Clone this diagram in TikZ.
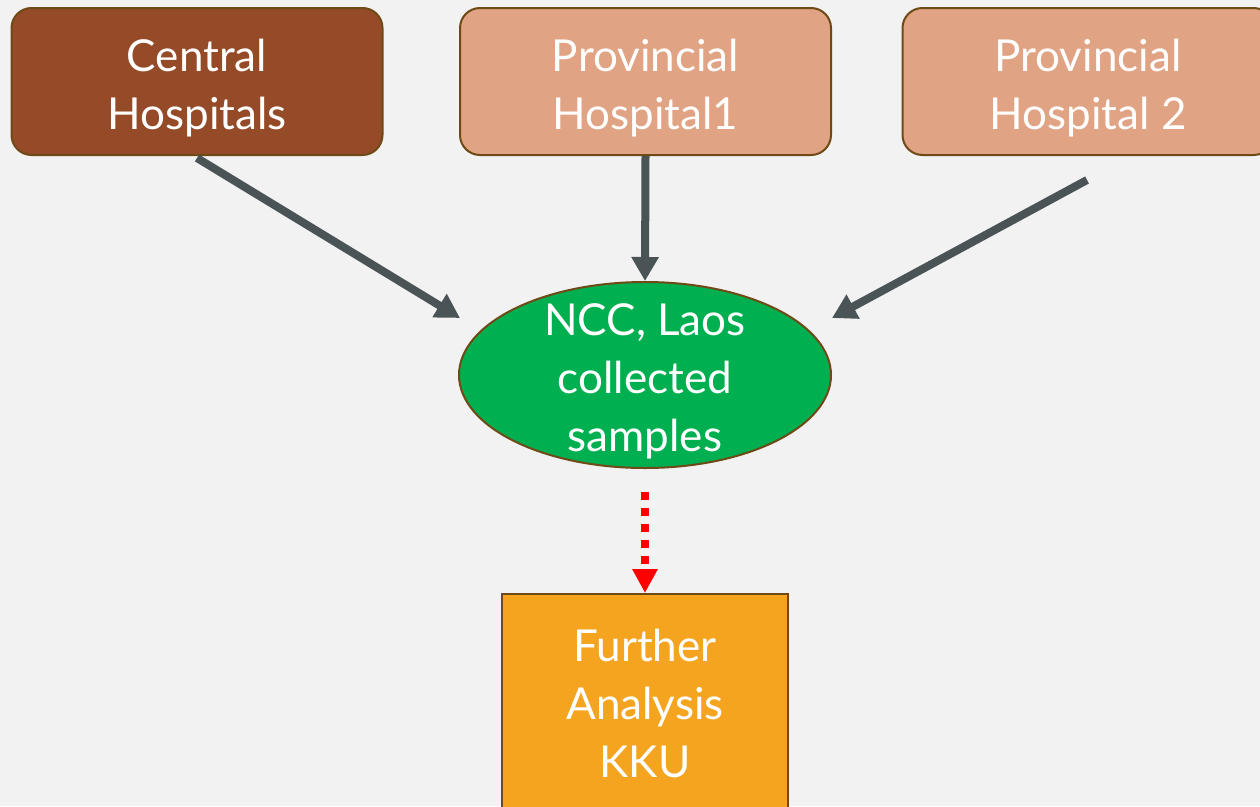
\documentclass[tikz,border=0pt]{standalone}
\usepackage{fontspec}
\setmainfont{Lato}
\usetikzlibrary{arrows.meta,shapes.geometric}
\definecolor{bg}{HTML}{F2F2F2}
\definecolor{cbrown}{HTML}{964B28}
\definecolor{ctan}{HTML}{E0A383}
\definecolor{cgreen}{HTML}{00B050}
\definecolor{corange}{HTML}{F5A420}
\definecolor{cborder}{HTML}{6E4A16}
\definecolor{cgray}{HTML}{4A5356}
\begin{document}
\begin{tikzpicture}[x=1pt,y=-1pt,
  txt/.style={text=white,align=center,font=\fontsize{44}{58}\selectfont,inner sep=0pt},
  hosp/.style={draw=cborder,line width=2pt,rounded corners=20pt,minimum width=371pt,minimum height=147pt,inner sep=0pt},
  grayarrow/.style={draw=cgray,line width=8pt,-{Triangle[length=24pt,width=26pt]}},
  redarrow/.style={draw=red,line width=8pt,dash pattern=on 8pt off 8pt,-{Triangle[length=24pt,width=24pt]}}
]
\useasboundingbox[fill=bg] (0,0) rectangle (1260,806);
\clip (0,0) rectangle (1260,806);
\node[hosp,fill=cbrown] (central) at (197,81.5) {};
\node[hosp,fill=ctan] (prov1) at (645.5,81.5) {};
\node[hosp,fill=ctan] (prov2) at (1088,81.5) {};
\node[txt] (centralt) at (197,88) {Central\\Hospitals};
\node[txt] (prov1t) at (645.5,88) {Provincial\\Hospital1};
\node[txt] (prov2t) at (1088,88) {Provincial\\Hospital 2};
\node[ellipse,draw=cborder,line width=2pt,fill=cgreen,minimum width=372pt,minimum height=186pt,inner sep=0pt] (ncc) at (645,375) {};
\node[txt] (ncct) at (645,381) {NCC, Laos\\collected\\samples};
\node[draw=cborder,line width=2pt,fill=corange,minimum width=286pt,minimum height=222pt,inner sep=0pt] (kku) at (645,705) {};
\node[txt] (kkut) at (645,703) {Further\\Analysis\\KKU};
\coordinate (s1) at (197,158);
\coordinate (e1) at (460,318);
\coordinate (s3) at (1087,180);
\coordinate (e3) at (832,318);
\coordinate (s4) at (645,492);
\draw[grayarrow] (s1) -- (e1);
\draw[grayarrow] (prov1.south) -- (ncc.north);
\draw[grayarrow] (s3) -- (e3);
\draw[redarrow] (s4) -- (kku.north);
\end{tikzpicture}
\end{document}
